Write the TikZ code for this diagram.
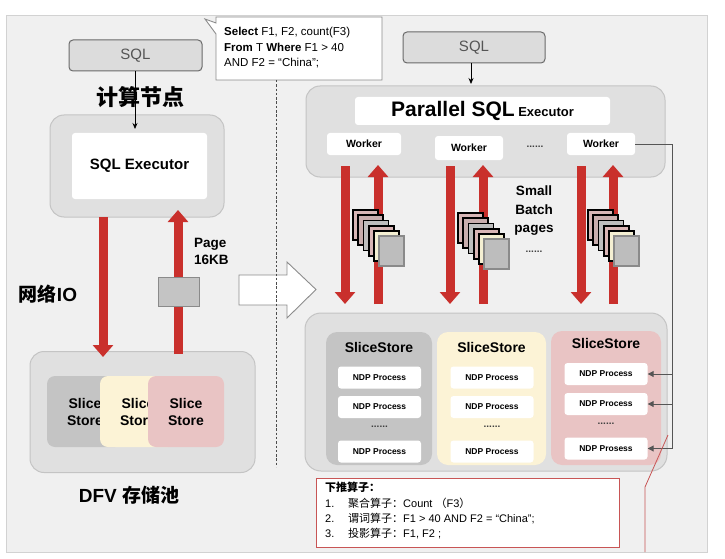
\documentclass[tikz,border=0pt]{standalone}
\usepackage{fontspec}
\setmainfont{Liberation Sans}
\newfontfamily\cjk{Noto Sans CJK SC}
\usetikzlibrary{arrows.meta,calc}
\definecolor{panelbg}{HTML}{F0F0F0}
\definecolor{panelborder}{HTML}{D2D2D2}
\definecolor{boxgray}{HTML}{E0E0E0}
\definecolor{boxborder}{HTML}{C4C4C4}
\definecolor{sqlfill}{HTML}{DCDCDC}
\definecolor{sqlborder}{HTML}{6A6A6A}
\definecolor{sqltext}{HTML}{555555}
\definecolor{redar}{HTML}{C9302C}
\definecolor{pinkfill}{HTML}{E9C4C4}
\definecolor{yellowfill}{HTML}{FCF3D6}
\definecolor{grayfill}{HTML}{C4C4C4}
\definecolor{stkA}{HTML}{D7B6B6}
\definecolor{stkB}{HTML}{C9AEAE}
\definecolor{stkC}{HTML}{BEBEBE}
\definecolor{stkD}{HTML}{D9B5B5}
\definecolor{stkE}{HTML}{F4EFD2}
\definecolor{stkF}{HTML}{BDBDBD}
\definecolor{stkFb}{HTML}{8A8A8A}
\definecolor{cborder}{HTML}{8C8C8C}
\definecolor{pdborder}{HTML}{C85555}
\definecolor{conn}{HTML}{555555}
\newcommand\pagestack[2]{%
  \foreach \c [count=\i from 0] in {stkA,stkB,stkC,stkD,stkE}{%
    \filldraw[fill=\c, draw=black, line width=1.8pt] ({#1+\i*5.2},{#2+\i*5.2}) rectangle +(25,30);}
  \filldraw[fill=stkF, draw=stkFb, line width=1.2pt] ({#1+26},{#2+26}) rectangle +(25,30);
}
\begin{document}
\begin{tikzpicture}[x=1pt,y=-1pt,
  grpbox/.style={fill=boxgray, draw=boxborder, line width=1pt, rounded corners=14pt, inner sep=0pt},
  sqlbox/.style={fill=sqlfill, draw=sqlborder, line width=1pt, rounded corners=4pt, inner sep=0pt,
    font=\fontsize{15}{18}\selectfont, text=sqltext},
  whitebox/.style={fill=white, draw=none, rounded corners=3pt, inner sep=0pt},
  redarrow/.style={draw=redar, line width=9pt, -{Triangle[width=20pt,length=12pt]}},
  thinarrow/.style={draw=black, line width=0.8pt, -{Stealth[length=6pt,width=5pt]}},
  worker/.style={whitebox, font=\bfseries\fontsize{10.5}{12}\selectfont},
  ndp/.style={whitebox, minimum width=83pt, minimum height=22pt, font=\bfseries\fontsize{8.5}{10}\selectfont},
  col/.style={draw=none, rounded corners=11pt, inner sep=0pt, minimum height=133pt},
  title/.style={font=\bfseries\fontsize{14}{16}\selectfont},
  slice/.style={draw=none, rounded corners=8pt, inner sep=0pt, minimum width=76pt, minimum height=71pt,
    align=center, font=\bfseries\fontsize{14}{17}\selectfont},
  dots/.style={font=\bfseries\fontsize{10}{11}\selectfont, text=black!75}
]
\useasboundingbox (0,0) rectangle (725,559);
% background panel
\filldraw[fill=panelbg, draw=panelborder, line width=0.8pt] (6,15) rectangle (707,552);

% ---------------- left side ----------------
\node[sqlbox, minimum width=133pt, minimum height=31pt] (sqlL) at (135.5,55.5) {SQL};
\node[grpbox, minimum width=174pt, minimum height=102pt] (exec) at (137,166) {};
\node[whitebox, minimum width=135pt, minimum height=66pt, font=\bfseries\fontsize{15}{18}\selectfont] (execin) at (139.5,166) {SQL Executor};
\node[font=\cjk\bfseries\fontsize{22}{26}\selectfont] (cnode) at (140,97) {计算节点};
\coordinate (sqlLtip) at (135,129);
\draw[thinarrow] (sqlL.south -| sqlLtip) -- (sqlLtip);

\node[grpbox, minimum width=225pt, minimum height=121pt] (pool) at (142.5,412) {};
\node[slice, fill=grayfill] (sl1) at (85,411.5) {Slice\\Store};
\node[slice, fill=yellowfill] (sl2) at (138,411.5) {Slice\\Store};
\node[slice, fill=pinkfill] (sl3) at (186,411.5) {Slice\\Store};
\node[font=\bfseries\fontsize{19}{22}\selectfont] (dfv) at (129,495) {DFV {\cjk 存储池}};

\coordinate (ldA) at (103,217);
\coordinate (ldB) at (103,357);
\draw[redarrow] (ldA) -- (ldB);
\coordinate (luA) at (178,354);
\coordinate (luB) at (178,210);
\draw[redarrow] (luA) -- (luB);
\node[fill=grayfill, draw=stkFb, line width=1pt, minimum width=41pt, minimum height=29pt, inner sep=0pt] (page) at (178.5,291.5) {};
\node[anchor=west, align=left, font=\bfseries\fontsize{13.5}{17}\selectfont, inner sep=0pt] (pagelbl) at (194,251) {Page\\16KB};
\node[font=\bfseries\fontsize{19}{22}\selectfont, inner sep=0pt] (netio) at (48,294) {{\cjk 网络}IO};

% ---------------- middle ----------------
\filldraw[fill=white, draw=cborder, line width=0.9pt]
  (239,275) -- (287,275) -- (287,262) -- (316,289.5) -- (287,318) -- (287,305) -- (239,305) -- cycle;
\filldraw[fill=white, draw=cborder, line width=0.9pt]
  (216,17) -- (382,17) -- (382,80) -- (216,80) -- (216,34) -- (205,19) -- (216,23) -- cycle;
\node[anchor=west, align=left, inner sep=0pt, font=\fontsize{11.5}{15.5}\selectfont] (query) at (224,48) {%
  \textbf{Select} F1, F2, count(F3)\\
  \textbf{From} T \textbf{Where} F1 > 40\\
  AND F2 = “China”;};
\coordinate (divT) at (276,80);
\coordinate (divB) at (276,467);
\draw[draw=black!70, line width=0.7pt, dash pattern=on 2.5pt off 1.8pt] (divT) -- (divB);

% ---------------- right side ----------------
\node[sqlbox, minimum width=142pt, minimum height=31pt] (sqlR) at (474,47.5) {SQL};
\node[grpbox, minimum width=359pt, minimum height=91pt] (pexec) at (485.5,131.5) {};
\node[whitebox, minimum width=255pt, minimum height=28pt] (ptitle) at (482.5,111)
  {\bfseries\fontsize{21}{24}\selectfont Parallel SQL\,{\fontsize{13}{15}\selectfont Executor}};
\coordinate (sqlRtip) at (471,84);
\draw[thinarrow] (sqlR.south -| sqlRtip) -- (sqlRtip);
\node[worker, minimum width=74pt, minimum height=22pt] (w1) at (364,144) {Worker};
\node[worker, minimum width=68pt, minimum height=24pt] (w2) at (469,148) {Worker};
\node[worker, minimum width=68pt, minimum height=22pt] (w3) at (601,144) {Worker};
\node[dots] (wdots) at (535,147) {......};

% red arrows between executor and storage
\foreach \xd/\xu [count=\k] in {345/378, 450/483, 581/613}{
  \coordinate (d\k a) at (\xd,166);
  \coordinate (d\k b) at (\xd,304);
  \coordinate (u\k a) at (\xu,304);
  \coordinate (u\k b) at (\xu,165);
  \draw[redarrow] (d\k a) -- (d\k b);
  \draw[redarrow] (u\k a) -- (u\k b);
}
\pagestack{353}{210}
\pagestack{458}{213}
\pagestack{588}{210}
\node[align=center, font=\bfseries\fontsize{13.5}{18.5}\selectfont] (small) at (534,211) {Small\\Batch\\pages};
\node[dots] (sdots) at (534,252) {......};

% storage pool
\node[grpbox, minimum width=362pt, minimum height=158pt, rounded corners=16pt] (spool) at (486,392) {};
\node[col, fill=grayfill, minimum width=106pt] (c1) at (379,398.5) {};
\node[col, fill=yellowfill, minimum width=109pt] (c2) at (491.5,398.5) {};
\node[col, fill=pinkfill, minimum width=110pt, minimum height=134pt] (c3) at (606,398) {};
\node[title] (t1) at (379,347) {SliceStore};
\node[title] (t2) at (491.5,347) {SliceStore};
\node[title] (t3) at (606,343) {SliceStore};
\node[ndp] (n11) at (379.5,377.5) {NDP Process};
\node[ndp] (n12) at (379.5,407) {NDP Process};
\node[dots] (k1) at (379.5,427) {......};
\node[ndp] (n13) at (379.5,451.5) {NDP Process};
\node[ndp] (n21) at (492,377.5) {NDP Process};
\node[ndp] (n22) at (492,407) {NDP Process};
\node[dots] (k2) at (492,427) {......};
\node[ndp] (n23) at (492,451.5) {NDP Process};
\node[ndp] (n31) at (606,374) {NDP Process};
\node[ndp] (n32) at (606,404) {NDP Process};
\node[dots] (k3) at (606,424) {......};
\node[ndp] (n33) at (606,448.5) {NDP Prosess};

% worker -> NDP connectors
\coordinate (bus) at (672,144);
\draw[conn, line width=0.9pt] (w3.east) -- (bus) -- (bus |- n33.east);
\foreach \n in {n31,n32,n33}{
  \draw[conn, line width=1pt, -{Triangle[length=6pt,width=6pt]}] (bus |- \n.east) -- (\n.east);
}

% pushdown box
\node[fill=white, draw=pdborder, line width=1pt, minimum width=303pt, minimum height=69pt, inner sep=0pt] (pd) at (467.5,512.5) {};
\node[anchor=north west, align=left, inner sep=0pt, font=\fontsize{11}{15.3}\selectfont] (pdtext) at (325,482) {%
  {\cjk\bfseries 下推算子：}\\
  \makebox[23pt][l]{1.}{\cjk 聚合算子：}Count {\cjk（}F3{\cjk）}\\
  \makebox[23pt][l]{2.}{\cjk 谓词算子：}F1 > 40 AND F2 = “China”;\\
  \makebox[23pt][l]{3.}{\cjk 投影算子：}F1, F2 ;};
\coordinate (rl1) at (645,552);
\coordinate (rl2) at (645,487);
\coordinate (rl3) at (668,435);
\draw[draw=pdborder, line width=0.8pt] (rl1) -- (rl2) -- (rl3);
\end{tikzpicture}
\end{document}
